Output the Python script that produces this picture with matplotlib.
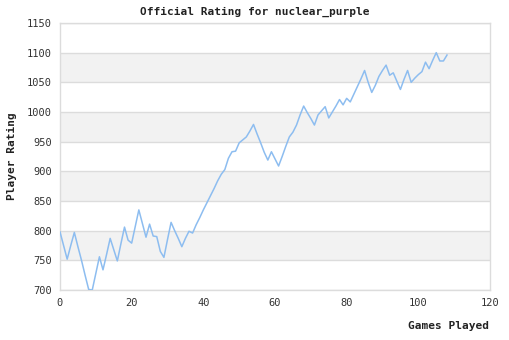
import matplotlib
matplotlib.use("Agg")
import matplotlib.pyplot as plt

games = list(range(109))
ratings = [798, 775, 752, 775, 797, 773, 750, 725, 701, 700,
           728, 756, 734, 760, 787, 768, 749, 778, 806, 784,
           779, 807, 835, 812, 789, 811, 791, 790, 765, 755,
           785, 814, 800, 787, 773, 787, 799, 796, 810, 822,
           835, 847, 859, 871, 884, 895, 903, 922, 933, 934,
           948, 953, 958, 968, 979, 963, 948, 932, 919, 933,
           921, 909, 925, 942, 958, 966, 978, 995, 1010, 999,
           989, 978, 995, 1002, 1009, 990, 1000, 1010, 1021, 1012,
           1023, 1017, 1030, 1043, 1056, 1070, 1050, 1033, 1045, 1060,
           1070, 1079, 1062, 1066, 1052, 1038, 1055, 1070, 1050, 1057,
           1063, 1068, 1084, 1073, 1087, 1100, 1086, 1086, 1096]

title = "Official Rating for nuclear_purple"
xlabel = "Games Played"
ylabel = "Player Rating"
xticks = [0, 20, 40, 60, 80, 100, 120]
yticks = [700, 750, 800, 850, 900, 950, 1000, 1050, 1100, 1150]

fig = plt.figure(figsize=(5.1, 3.4), dpi=100)
ax = fig.add_axes([60/510, 1-290/340, 430/510, 267/340])

mono = "DejaVu Sans Mono"
grid_c = "#dcdcdc"
for lo in [750, 850, 950, 1050]:
    ax.axhspan(lo, lo + 50, color="#f2f2f2", zorder=0, lw=0)
for y in yticks:
    ax.axhline(y, color=grid_c, lw=1.0, zorder=1)

ax.plot(games, ratings, color="#8dbdf0", lw=1.1, zorder=3)

ax.set_xlim(0, 120)
ax.set_ylim(700, 1150)
ax.set_xticks(xticks)
ax.set_yticks(yticks)
ax.tick_params(length=0, labelsize=7.5, colors="#333333", pad=6)
for lab in ax.get_xticklabels() + ax.get_yticklabels():
    lab.set_family(mono)
for s in ax.spines.values():
    s.set_color(grid_c)
    s.set_linewidth(1.0)

fig.text(0.5, 1-12/340, title, ha="center", va="center", family=mono,
         fontweight="bold", fontsize=8, color="#222222")
fig.text(489/510, 1-326/340, xlabel, ha="right", va="center", family=mono,
         fontweight="bold", fontsize=8, color="#222222")
fig.text(12/510, 1-156/340, ylabel, ha="center", va="center", rotation=90,
         family=mono, fontweight="bold", fontsize=8, color="#222222")

fig.savefig("out.png", dpi=100)
